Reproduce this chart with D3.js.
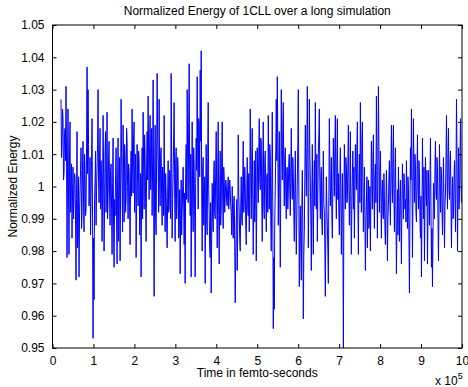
<!DOCTYPE html>
<html>
<head>
<meta charset="utf-8">
<script src="https://cdn.jsdelivr.net/npm/d3@7"></script>
<style>
  html, body { margin: 0; padding: 0; background: #fff; }
  svg { display: block; }
  text { font-family: "Liberation Sans", Arial, Helvetica, sans-serif; font-size: 12px; fill: #000; }
</style>
</head>
<body>
<div id="chart"></div>
<script>
  // ── Normalized energy, 1CLL long run (MATLAB-style plot) ─────────────────
  // Samples are evenly spaced in time, starting at T0, one every DT fs.

  var T0 = 20800;
  var DT = 1222.5;

  var energy = [
    // 0.2e5 .. 1.5e5
    1.027, 1.009, 1.013, 1.024, 1.021, 1.002, 1.004, 1.016, 1.018, 1.008, 1.031, 1.011, 0.978, 1.006, 1.024, 0.997, 0.979, 1.010, 1.020, 0.992,
    1.001, 1.007, 0.984, 0.999, 1.006, 0.990, 0.997, 1.004, 1.003, 0.989, 0.971, 0.996, 1.017, 0.981, 0.985, 1.003, 0.972, 0.992, 0.999, 1.005,
    1.012, 0.987, 0.991, 1.008, 1.014, 0.995, 0.986, 1.010, 1.005, 0.991, 0.993, 1.012, 1.037, 1.004, 1.030, 1.013, 0.994, 1.001, 1.009, 0.985,
    0.997, 1.008, 1.021, 0.990, 0.953, 0.984, 0.965, 0.996, 1.002, 1.011, 0.988, 0.999, 1.006, 1.013, 1.030, 1.001, 0.995, 1.009, 1.018, 0.993,
    1.008, 1.002, 0.983, 0.997, 1.022, 1.006, 0.980, 0.994, 1.011, 1.017, 0.992, 1.004, 1.023, 0.990, 0.996, 1.008, 1.014, 0.998, 0.988, 1.005,
    1.007, 0.993, 0.979, 1.001, 1.015, 0.987, 0.975, 0.996,
    // 1.5e5 .. 2.9e5
    0.991, 1.004, 1.012, 0.989, 0.976, 1.002, 1.015, 0.983, 0.995, 1.009, 0.977, 0.998, 1.027, 1.010, 1.001, 0.986, 1.019, 1.005, 0.989, 1.013,
    1.010, 0.992, 0.996, 1.018, 1.014, 1.000, 0.990, 1.007, 1.005, 0.994, 0.982, 1.003, 1.011, 0.997, 1.024, 1.006, 0.998, 1.015, 1.020, 0.992,
    1.003, 1.010, 0.978, 0.995, 1.013, 1.001, 0.994, 1.011, 1.008, 0.985, 0.990, 1.004, 0.972, 0.999, 1.012, 0.990, 1.023, 1.007, 0.993, 1.016,
    1.010, 0.995, 0.983, 1.006, 1.017, 1.002, 1.028, 1.009, 0.996, 1.014, 1.022, 0.999, 1.004, 1.018, 0.991, 1.008, 1.033, 0.997, 0.966, 1.003,
    1.019, 0.990, 0.985, 1.011, 1.035, 1.016, 1.006, 0.992, 1.027, 1.001, 0.994, 1.010, 1.012, 0.996, 0.988, 1.006, 1.003, 0.991, 1.022, 1.000,
    0.986, 1.004, 0.998, 0.989, 0.981, 0.997, 1.008, 0.992, 0.993, 1.005, 1.002, 0.990, 1.035, 1.009, 0.984, 0.996,
    // 2.9e5 .. 4.4e5
    1.004, 1.015, 1.026, 0.998, 0.983, 1.007, 1.012, 0.990, 0.996, 1.009, 1.005, 0.984, 0.988, 0.999, 0.973, 0.991, 1.002, 0.985, 0.992, 1.000,
    1.006, 0.994, 0.982, 0.998, 0.970, 1.004, 1.013, 0.996, 1.030, 1.008, 0.995, 1.019, 1.038, 1.002, 0.991, 1.010, 0.972, 0.999, 1.020, 0.993,
    0.986, 1.012, 1.007, 0.990, 0.972, 1.001, 1.015, 1.005, 1.034, 1.011, 0.993, 1.021, 1.019, 1.003, 1.036, 1.014, 1.042, 0.998, 0.980, 1.006,
    1.009, 0.988, 0.994, 1.003, 0.970, 0.997, 1.013, 0.989, 0.985, 1.009, 1.026, 0.999, 0.992, 0.981, 0.978, 0.995, 0.967, 0.984, 1.001, 0.990,
    0.986, 1.004, 1.008, 0.992, 0.990, 1.006, 1.017, 0.997, 0.981, 1.002, 1.020, 0.991, 0.976, 0.999, 1.011, 0.988, 0.993, 1.009, 1.020, 0.995,
    0.987, 1.006, 1.003, 0.992, 0.996, 1.002, 1.001, 0.995, 0.994, 1.000, 1.003, 0.993, 0.997, 1.002, 0.999, 0.994,
    // 4.4e5 .. 5.8e5
    0.992, 0.985, 1.000, 0.990, 0.984, 0.995, 0.997, 0.981, 0.964, 0.978, 0.989, 0.996, 0.974, 0.987, 1.016, 0.998, 0.992, 0.983, 0.980, 0.994,
    1.003, 0.990, 0.988, 1.002, 1.014, 0.992, 0.995, 1.006, 1.001, 0.988, 0.982, 0.997, 1.009, 0.993, 0.991, 1.004, 0.986, 0.998, 1.024, 1.005,
    0.990, 1.009, 1.018, 0.996, 0.979, 0.994, 1.008, 0.989, 0.996, 1.011, 0.977, 0.993, 1.012, 1.001, 0.995, 1.010, 1.021, 1.003, 0.999, 1.015,
    1.014, 0.997, 0.983, 1.006, 1.020, 0.994, 0.990, 1.008, 1.011, 0.998, 0.986, 1.003, 1.004, 0.992, 1.022, 1.007, 0.993, 1.013, 1.010, 0.989,
    0.980, 1.001, 1.023, 0.995, 0.956, 0.978, 0.962, 0.990, 0.999, 1.012, 1.027, 1.008, 1.034, 1.015, 0.988, 1.005, 1.017, 0.996, 0.975, 1.002,
    1.030, 1.011, 1.002, 1.018, 1.026, 1.004, 0.994, 1.009, 1.012, 0.997, 0.990, 1.005, 1.006, 0.993, 0.998, 1.008,
    // 5.8e5 .. 7.2e5
    1.010, 0.998, 0.991, 1.006, 1.018, 1.001, 0.996, 1.009, 1.004, 0.992, 0.983, 0.999, 1.011, 0.994, 0.979, 0.990, 1.002, 1.013, 1.030, 1.000,
    0.969, 0.985, 0.994, 0.981, 0.971, 0.993, 1.005, 0.988, 0.959, 0.979, 0.986, 1.003, 1.019, 1.007, 0.997, 1.012, 1.031, 1.009, 0.981, 0.998,
    1.027, 1.011, 1.002, 0.990, 0.974, 0.996, 1.013, 0.993, 0.979, 1.000, 1.008, 0.994, 1.026, 1.005, 0.993, 1.010, 0.983, 0.997, 1.010, 1.016,
    1.024, 1.001, 0.990, 1.003, 1.006, 0.989, 0.985, 0.999, 1.011, 0.995, 0.992, 0.981, 0.966, 0.987, 1.003, 0.994, 0.988, 0.980, 0.970, 0.997,
    1.021, 1.007, 0.994, 1.002, 1.009, 0.991, 0.984, 1.000, 1.015, 1.005, 0.997, 1.013, 1.022, 1.000, 0.990, 1.008, 1.021, 0.996, 1.004, 0.992,
    0.985, 1.001, 1.012, 0.996, 0.979, 0.993, 1.004, 0.988, 0.950, 0.994, 1.013, 1.002, 0.993, 1.009, 1.006, 0.995,
    // 7.2e5 .. 8.6e5
    0.996, 1.007, 1.019, 1.001, 0.988, 0.999, 1.017, 0.993, 0.979, 0.995, 1.004, 1.011, 0.993, 1.006, 0.984, 0.998, 1.013, 1.004, 0.999, 1.012,
    1.020, 0.996, 0.979, 1.001, 1.010, 0.995, 1.026, 1.008, 0.992, 1.014, 1.020, 1.000, 0.986, 0.997, 1.006, 0.991, 0.974, 0.989, 0.995, 1.003,
    0.981, 0.994, 1.002, 0.987, 0.990, 1.000, 0.980, 0.996, 1.014, 1.003, 0.993, 1.009, 1.016, 0.998, 0.987, 1.003, 1.007, 0.995, 1.028, 1.010,
    0.984, 1.005, 1.031, 1.012, 0.992, 1.003, 1.011, 0.996, 0.984, 0.999, 1.002, 0.991, 0.990, 1.004, 0.997, 0.987, 0.982, 0.993, 1.005, 0.996,
    0.977, 0.990, 0.994, 1.003, 1.008, 0.995, 0.988, 1.006, 1.019, 1.001, 0.995, 1.010, 1.019, 0.997, 0.986, 1.002, 1.012, 0.992, 0.973, 0.988,
    0.999, 0.985, 1.006, 0.994, 0.983, 0.997, 1.002, 0.989, 0.976, 0.995, 1.007, 0.998, 0.990, 1.004, 1.001, 0.993,
    // 8.6e5 .. 10e5
    0.996, 0.989, 1.008, 0.997, 0.987, 1.003, 0.999, 0.984, 0.967, 0.993, 1.012, 1.002, 1.024, 1.006, 0.978, 0.995, 1.021, 1.004, 0.995, 1.010,
    1.007, 0.992, 0.989, 1.003, 1.016, 0.999, 0.993, 1.008, 1.004, 0.990, 0.984, 0.997, 0.972, 0.991, 1.015, 1.001, 0.990, 1.006, 0.977, 0.994,
    1.009, 0.998, 0.994, 1.005, 0.976, 0.990, 1.005, 0.996, 0.988, 1.002, 1.015, 0.993, 0.975, 0.987, 0.969, 0.984, 1.001, 0.995, 0.990, 1.007,
    1.014, 0.998, 0.996, 1.009, 1.006, 0.990, 0.977, 0.992, 1.013, 1.001, 0.992, 1.006, 1.004, 0.993, 0.985, 0.999, 1.009, 0.995, 0.981, 0.994,
    0.998, 1.008, 1.022, 1.004, 0.993, 1.010, 1.018, 0.999, 0.996, 1.007, 1.011, 0.994, 0.981, 0.997, 1.003, 0.990, 0.991, 1.002, 1.008, 0.996,
    0.986, 1.004, 1.027, 1.009, 0.980, 0.998, 1.012, 0.993, 0.997, 1.010, 1.021, 1.002, 0.995
  ];

  var xTicks = [0, 1, 2, 3, 4, 5, 6, 7, 8, 9, 10];           // units of 1e5 fs
  var yTicks = [0.95, 0.96, 0.97, 0.98, 0.99, 1, 1.01, 1.02, 1.03, 1.04, 1.05];

  var width = 468, height = 387;
  var margin = { top: 25, right: 6, bottom: 39, left: 52.5 };
  var innerW = width - margin.left - margin.right;
  var innerH = height - margin.top - margin.bottom;

  var x = d3.scaleLinear().domain([0, 10e5]).range([0, innerW]);
  var y = d3.scaleLinear().domain([0.95, 1.05]).range([innerH, 0]);

  var svg = d3.select('#chart').append('svg')
    .attr('width', width)
    .attr('height', height);

  var g = svg.append('g')
    .attr('transform', 'translate(' + margin.left + ',' + margin.top + ')');

  // Trace (clipped to the axes box, like MATLAB)
  svg.append('defs').append('clipPath').attr('id', 'clip')
    .append('rect').attr('width', innerW).attr('height', innerH);

  var line = d3.line()
    .x(function (d, i) { return x(T0 + i * DT); })
    .y(function (d) { return y(d); });

  g.append('path')
    .datum(energy)
    .attr('clip-path', 'url(#clip)')
    .attr('fill', 'none')
    .attr('stroke', '#0000ff')
    .attr('stroke-width', 1)
    .attr('d', line);

  // Axes: ticks inside, on all four sides
  var tickLen = 4;
  var xTickVals = xTicks.map(function (v) { return v * 1e5; });

  function styleAxis(sel) {
    sel.select('.domain').remove();
    sel.selectAll('line').attr('stroke', '#000');
    sel.selectAll('text').style('font-size', '12px');
  }

  g.append('g')
    .attr('transform', 'translate(0,' + innerH + ')')
    .call(d3.axisBottom(x).tickValues(xTickVals).tickSize(-tickLen).tickPadding(8)
      .tickFormat(function (d) { return d / 1e5; }))
    .call(styleAxis);

  g.append('g')
    .call(d3.axisTop(x).tickValues(xTickVals).tickSize(-tickLen).tickFormat(''))
    .call(styleAxis);

  g.append('g')
    .call(d3.axisLeft(y).tickValues(yTicks).tickSize(-tickLen).tickPadding(8)
      .tickFormat(function (d) { return String(+d.toFixed(2)); }))
    .call(styleAxis);

  g.append('g')
    .attr('transform', 'translate(' + innerW + ',0)')
    .call(d3.axisRight(y).tickValues(yTicks).tickSize(-tickLen).tickFormat(''))
    .call(styleAxis);

  g.append('rect')
    .attr('width', innerW)
    .attr('height', innerH)
    .attr('fill', 'none')
    .attr('stroke', '#000')
    .attr('stroke-width', 1);

  // Labels
  svg.append('text')
    .attr('x', margin.left + innerW / 2)
    .attr('y', 15)
    .attr('text-anchor', 'middle')
    .text('Normalized Energy of 1CLL over a long simulation');

  svg.append('text')
    .attr('x', margin.left + innerW / 2)
    .attr('y', 377)
    .attr('text-anchor', 'middle')
    .text('Time in femto-seconds');

  svg.append('text')
    .attr('transform', 'translate(17,' + (margin.top + innerH / 2) + ') rotate(-90)')
    .attr('text-anchor', 'middle')
    .text('Normalized Energy');

  var mult = svg.append('text')
    .attr('x', 435)
    .attr('y', 385);
  mult.append('tspan').text('x 10');
  mult.append('tspan').attr('dy', -6).style('font-size', '9px').text('5');
</script>
</body>
</html>
